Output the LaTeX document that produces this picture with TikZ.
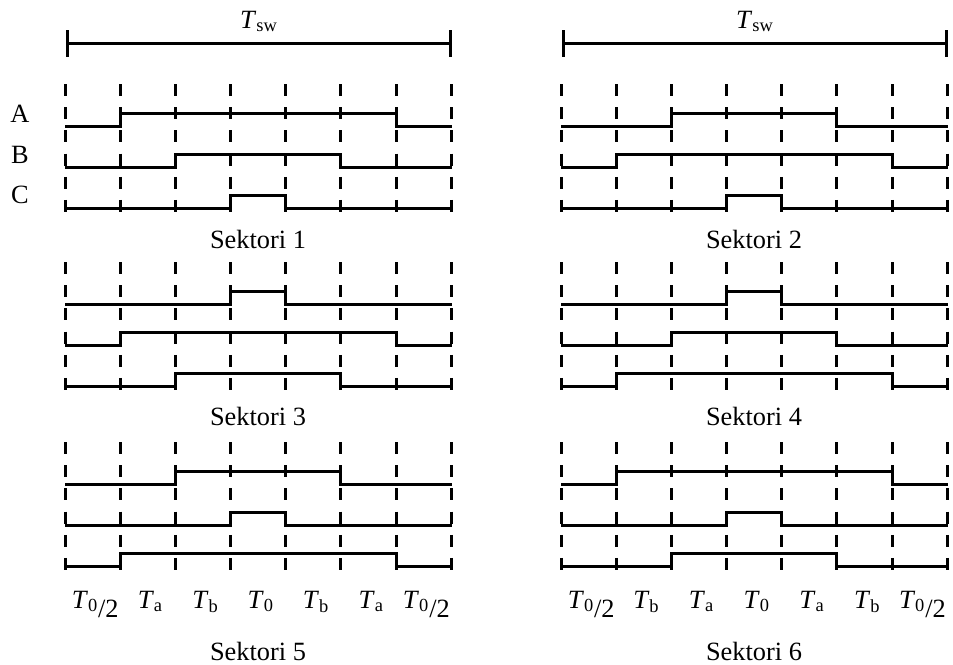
\documentclass[tikz,border=0pt]{standalone}
\usepackage{fontspec}
\setmainfont{Liberation Serif}
\usetikzlibrary{arrows.meta}
\newcommand{\Tlbl}[1]{\textit{T}\textsubscript{#1}}
\newcommand{\Thalf}{\textit{T}\textsubscript{0}\raisebox{-0.75ex}{/2}}

\begin{document}
\begin{tikzpicture}[x=0.02cm, y=-0.02cm,
    lbl/.style={font=\fontsize{15pt}{18pt}\selectfont, inner sep=0pt},
    sig/.style={line width=0.06cm},
    guide/.style={line width=0.06cm, dash pattern=on 6.8pt off 6.4pt},
    period/.style={line width=0.06cm, {Bar[width=15pt]}-{Bar[width=15pt]}}]
  \useasboundingbox (0,0) rectangle (953,664);

  % switching period bars
  \coordinate (tswL1) at (65.5,43.5);
  \coordinate (tswR1) at (451.5,43.5);
  \coordinate (tswL2) at (561.5,43.5);
  \coordinate (tswR2) at (947.5,43.5);
  \draw[period] (tswL1) -- (tswR1);
  \draw[period] (tswL2) -- (tswR2);
  \node[lbl, anchor=base] (tsw1) at (259,28) {\Tlbl{sw}};
  \node[lbl, anchor=base] (tsw2) at (755,28) {\Tlbl{sw}};

  % phase names
  \node[lbl, anchor=base] (phA) at (20,122) {A};
  \node[lbl, anchor=base] (phB) at (20,163) {B};
  \node[lbl, anchor=base] (phC) at (20,203) {C};

  % six sectors: x0 / top / high-from index of A, B, C
  \foreach \x/\y/\a/\b/\c in {65/84/1/2/3, 561/84/2/1/3, 65/262/3/1/2,
                              561/262/3/2/1, 65/442/2/3/1, 561/442/1/3/2}{
    \foreach \k in {0,...,7}{
      \pgfmathsetmacro{\bx}{int(\x+\k*55.2)+0.5}
      \draw[guide] (\bx,\y) -- (\bx,\y+129);
    }
    \foreach \h [count=\i] in {\a,\b,\c}{
      \pgfmathsetmacro{\xs}{int(\x+\h*55.2)+0.5}
      \pgfmathsetmacro{\xe}{int(\x+(7-\h)*55.2)+0.5}
      \pgfmathsetmacro{\lo}{\y+1.5+41*\i}
      \draw[sig] (\x,\lo) -- (\xs,\lo) -- (\xs,\lo-13)
        -- (\xe,\lo-13) -- (\xe,\lo) -- (\x+387,\lo);
    }
  }

  % sector names
  \node[lbl, anchor=base] (sek1) at (258,248) {Sektori 1};
  \node[lbl, anchor=base] (sek2) at (754,248) {Sektori 2};
  \node[lbl, anchor=base] (sek3) at (258,425) {Sektori 3};
  \node[lbl, anchor=base] (sek4) at (754,425) {Sektori 4};
  \node[lbl, anchor=base] (sek5) at (258,660) {Sektori 5};
  \node[lbl, anchor=base] (sek6) at (754,660) {Sektori 6};

  % interval times
  \foreach \t [count=\i] in {\Thalf,\Tlbl{a},\Tlbl{b},\Tlbl{0},\Tlbl{b},\Tlbl{a},\Thalf}
    \node[lbl, anchor=base] (tl\i) at (65+\i*55.2-25,608) {\t};
  \foreach \t [count=\i] in {\Thalf,\Tlbl{b},\Tlbl{a},\Tlbl{0},\Tlbl{a},\Tlbl{b},\Thalf}
    \node[lbl, anchor=base] (tr\i) at (561+\i*55.2-25,608) {\t};
\end{tikzpicture}
\end{document}
